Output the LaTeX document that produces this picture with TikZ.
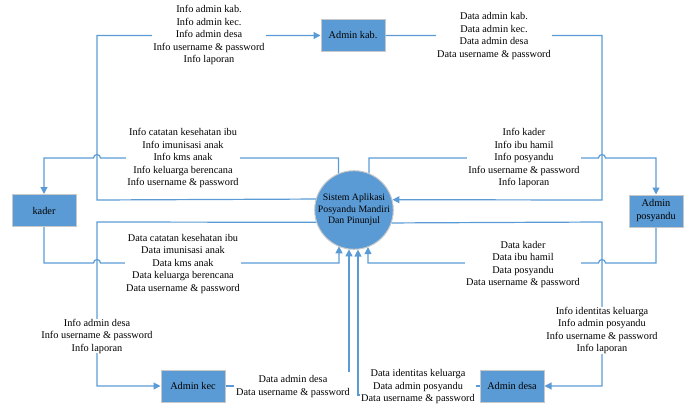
\documentclass[tikz,border=0pt]{standalone}
\usepackage{fontspec}
\setmainfont{Liberation Serif}
\usetikzlibrary{arrows.meta}
\definecolor{boxblue}{HTML}{5B9BD5}
\definecolor{lineblue}{HTML}{5B9BD5}
\definecolor{edgegray}{HTML}{C8C8C8}
\begin{document}
\begin{tikzpicture}[x=1pt,y=-1pt,
  ent/.style={rectangle,fill=boxblue,draw=edgegray,line width=1pt,minimum width=64pt,minimum height=32pt,inner sep=1pt,align=center,font=\fontsize{10.3}{13}\selectfont},
  proc/.style={circle,fill=boxblue,draw=edgegray,line width=1pt,minimum size=76pt,inner sep=0pt,align=center,font=\fontsize{9.8}{11.5}\selectfont},
  flow/.style={draw=lineblue,line width=1.2pt,-{Triangle[length=7pt,width=7pt]}},
  lbl/.style={fill=white,inner xsep=1pt,inner ysep=0pt,align=center,font=\fontsize{10.3}{12.5}\selectfont}]
\useasboundingbox (0,0) rectangle (684,406);

\node[ent] (kab) at (353,35.5) {Admin kab.};
\node[ent] (kader) at (44,210.5) {kader};
\node[ent,minimum width=54pt] (posy) at (656,211) {Admin\\posyandu};
\node[ent] (kec) at (193,386) {Admin kec};
\node[ent] (desa) at (512,386) {Admin desa};
\node[proc] (sys) at (354,210) {Sistem Aplikasi\\Posyandu Mandiri\\Dan Pinunjul};

% sys -> Admin kab.
\draw[flow] (sys.164.7) -- (97,200) -- (97,35.5) -- (kab.west);
\node[lbl] (l1) at (209,35) {Info admin kab.\\Info admin kec.\\Info admin desa\\Info username \& password\\Info laporan};

% Admin kab. -> sys
\draw[flow] (kab.east) -- (602,35.5) -- (602,200) -- (sys.15.3);
\node[lbl] (l2) at (494,36) {Data admin kab.\\Data admin kec.\\Data admin desa\\Data username \& password};

% sys -> Admin posyandu
\draw[flow] (sys.68.4) -- (sys.68.4 |- 0,158) -- (598.5,158) arc[start angle=180,end angle=0,radius=3.5pt] -- (656,158) -- (posy.north);
\node[lbl] (l3) at (524,158) {Info kader\\Info ibu hamil\\Info posyandu\\Info username \& password\\Info laporan};

% sys -> kader
\draw[flow] (sys.113.3) -- (sys.113.3 |- 0,158) -- (100.5,158) arc[start angle=0,end angle=180,radius=3.5pt] -- (44,158) -- (kader.north);
\node[lbl] (l4) at (183,158) {Info catatan kesehatan ibu\\Info imunisasi anak\\Info kms anak\\Info keluarga berencana\\Info username \& password};

% kader -> sys
\draw[flow] (kader.south) -- (44,263) -- (93.5,263) arc[start angle=180,end angle=0,radius=3.5pt] -- (339,263) -- (339,263 |- sys.246.7);
\node[lbl] (l5) at (183,264) {Data catatan kesehatan ibu\\Data imunisasi anak\\Data kms anak\\Data keluarga berencana\\Data username \& password};

% Admin posyandu -> sys
\draw[flow] (posy.south) -- (656,263) -- (605.5,263) arc[start angle=0,end angle=180,radius=3.5pt] -- (368,263) -- (368,263 |- sys.291.6);
\node[lbl] (l6) at (523,264.5) {Data kader\\Data ibu hamil\\Data posyandu\\Data username \& password};

% sys -> Admin kec
\draw[flow] (sys.198.4) -- (97,222) -- (97,386) -- (kec.west);
\node[lbl] (l7) at (97,336) {Info admin desa\\Info username \& password\\Info laporan};

% Admin kec -> sys
\draw[flow] (kec.east) -- (349,386) -- (349,386 |- sys.262.4);
\node[lbl,inner xsep=2pt,inner ysep=4pt] (l8) at (293,386.5) {Data admin desa\\Data username \& password};

% Admin desa -> sys
\draw[flow] (desa.west) -- (418,386) -- (418,395) -- (358,395) -- (358,395 |- sys.276);
\node[lbl] (l9) at (418,387) {Data identitas keluarga\\Data admin posyandu\\Data username \& password};

% sys -> Admin desa
\draw[flow] (sys.341.6) -- (602,222) -- (602,386) -- (desa.east);
\node[lbl] (l10) at (602,330.5) {Info identitas keluarga\\Info admin posyandu\\Info username \& password\\Info laporan};
\end{tikzpicture}
\end{document}
